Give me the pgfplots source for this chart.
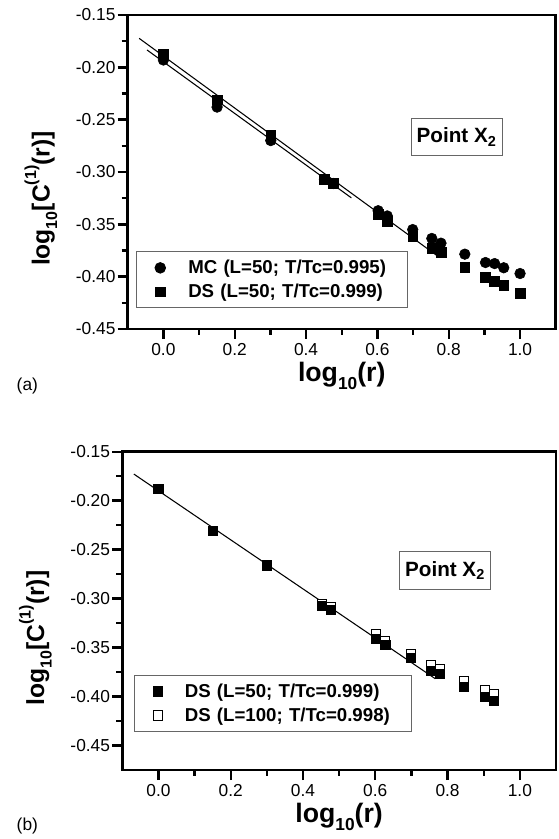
\documentclass[border=0pt]{standalone}
\usepackage{fontspec}
\setmainfont{Liberation Sans}
\usepackage{pgfplots}
\usepackage{pgfplotstable}
\pgfplotsset{compat=1.18}

\pgfplotstableread{
x y
0.0000 -0.193
0.1505 -0.238
0.3010 -0.270
0.4515 -0.307
0.4771 -0.311
0.6021 -0.337
0.6276 -0.342
0.6990 -0.355
0.7526 -0.3635
0.7782 -0.368
0.8451 -0.3785
0.9031 -0.3865
0.9287 -0.3875
0.9542 -0.3915
1.0000 -0.397
}\mcA

\pgfplotstableread{
x y
0.0000 -0.187
0.1505 -0.231
0.3010 -0.265
0.4515 -0.307
0.4771 -0.311
0.6021 -0.340
0.6276 -0.347
0.6990 -0.361
0.7526 -0.373
0.7782 -0.377
0.8451 -0.391
0.9031 -0.4005
0.9287 -0.404
0.9542 -0.408
1.0000 -0.4155
}\dsA

\pgfplotstableread{
x y
0.0000 -0.1875
0.1505 -0.231
0.3010 -0.266
0.4515 -0.307
0.4771 -0.311
0.6021 -0.341
0.6276 -0.347
0.6990 -0.360
0.7526 -0.374
0.7782 -0.377
0.8451 -0.390
0.9031 -0.400
0.9287 -0.404
}\dsB

\pgfplotstableread{
x y
0.0000 -0.1875
0.1505 -0.231
0.3010 -0.266
0.4515 -0.305
0.4771 -0.3085
0.6021 -0.336
0.6276 -0.343
0.6990 -0.356
0.7526 -0.3674
0.7782 -0.3715
0.8451 -0.384
0.9031 -0.3937
0.9287 -0.3977
}\dslB

\newcommand{\sub}[1]{\raisebox{-0.3em}{\fontsize{13}{13}\selectfont #1}}
\newcommand{\subs}[1]{\raisebox{-0.3em}{\fontsize{12}{12}\selectfont #1}}
\newcommand{\sups}[1]{\raisebox{0.55em}{\fontsize{12}{12}\selectfont #1}}

\tikzset{
  pointbox/.style={draw=black!60, line width=0.6pt,
    font=\bfseries\fontsize{15.5}{18}\selectfont,
    minimum width=68pt, minimum height=28pt, inner sep=2pt},
}

\pgfplotsset{
  panel/.style={
    scale only axis,
    xmin=-0.1, xmax=1.1,
    ymax=-0.15,
    axis line style={line width=2.2pt},
    every tick/.style={black, line width=1.8pt},
    tick align=outside,
    xtick pos=bottom, ytick pos=left,
    major tick length=7.5pt, minor tick length=4.5pt,
    xtick={0,0.2,0.4,0.6,0.8,1.0},
    ytick={-0.45,-0.40,-0.35,-0.30,-0.25,-0.20,-0.15},
    minor x tick num=1, minor y tick num=1,
    /pgf/number format/assume math mode=true,
    ticklabel style={font=\fontsize{13}{15}\selectfont},
    xticklabel style={/pgf/number format/.cd, fixed, fixed zerofill, precision=1},
    yticklabel style={inner xsep=1.5pt, /pgf/number format/.cd, fixed, fixed zerofill, precision=2},
    xlabel={\bfseries log\sub{10}(r)},
    ylabel={\bfseries log\subs{10}[C\sups{(1)}(r)]},
    xlabel style={font=\fontsize{20}{24}\selectfont, yshift=2pt},
    ylabel style={font=\fontsize{18.5}{22}\selectfont, at={(ticklabel cs:0.415,9pt)}},
    legend style={draw=black!60, line width=0.6pt, anchor=south west,
      font=\bfseries\fontsize{14}{16}\selectfont,
      inner xsep=14pt, inner ysep=5.5pt,
      row sep=5pt, column sep=17pt,
      nodes={inner sep=0pt, text height=11pt, text depth=2pt, align=left}},
    legend cell align=left,
    legend image code/.code={\path[##1] plot coordinates {(0pt,0pt)};},
  },
  fitline/.style={black, line width=0.8pt, no marks},
}

\begin{document}
\begin{tikzpicture}
\useasboundingbox (0,0) rectangle (419.25pt,629.25pt);

% panel (a)
\begin{axis}[panel, at={(95.8pt,382.5pt)}, anchor=south west,
  width=321pt, height=235.5pt, ymin=-0.45,
  legend style={at={(rel axis cs:0.019,0.066)}, nodes={text width=150pt}}]
\addplot[only marks, mark=*, mark size=4pt, black] table {\mcA};
\addlegendentry{MC (L=50; T/Tc=0.995)}
\addplot[only marks, mark=square*, mark size=3.7pt, black] table {\dsA};
\addlegendentry{DS (L=50; T/Tc=0.999)}
\addplot[fitline, forget plot] coordinates {(-0.068,-0.1723) (0.771,-0.3809)};
\addplot[fitline, forget plot] coordinates {(-0.046,-0.1834) (0.527,-0.3247)};
\node[pointbox] at (axis cs:0.822,-0.2666) {Point X\textsubscript{2}};
\end{axis}
\node[font=\fontsize{13}{15}\selectfont] at (20.5pt,339.5pt) {(a)};

% panel (b)
\begin{axis}[panel, at={(91.7pt,51.75pt)}, anchor=south west,
  width=325.3pt, height=238.7pt, ymin=-0.475,
  legend style={at={(rel axis cs:0.027,0.12)}, nodes={text width=156pt}}]
\addlegendimage{only marks, mark=square*, mark size=3.4pt, black}
\addlegendentry{DS (L=50; T/Tc=0.999)}
\addlegendimage{only marks, mark=square*, mark size=3.4pt, draw=black, fill=white, mark options={line width=0.6pt}}
\addlegendentry{DS (L=100; T/Tc=0.998)}
\addplot[only marks, mark=square*, mark size=3.4pt, draw=black, fill=white,
  mark options={line width=0.6pt}, forget plot] table {\dslB};
\addplot[only marks, mark=square*, mark size=3.4pt, black, forget plot] table {\dsB};
\addplot[fitline, forget plot] coordinates {(-0.068,-0.1728) (0.766,-0.3818)};
\node[pointbox] at (axis cs:0.793,-0.2712) {Point X\textsubscript{2}};
\end{axis}
\node[font=\fontsize{13}{15}\selectfont] at (20.5pt,9.5pt) {(b)};
\end{tikzpicture}
\end{document}
